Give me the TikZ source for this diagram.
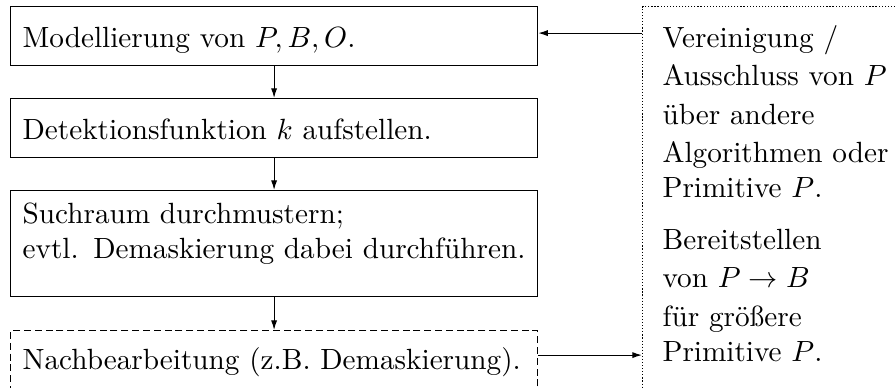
\documentclass[tikz,border=0pt]{standalone}
\usetikzlibrary{arrows.meta,calc}
\newlength\pxu
\setlength\pxu{0.342pt}
\tikzset{
  box/.style={draw, rectangle, anchor=north west, inner sep=0pt, minimum width={527*\pxu}},
  txt/.style={anchor=base west, align=left, inner sep=0pt, text width={520*\pxu}},
  rtxt/.style={txt, text width={232*\pxu}},
  arr/.style={-{Latex[length=3.3pt,width=2.1pt]}},
  dashbox/.style={dash pattern=on 2.4pt off 1.3pt},
  dotbox/.style={draw, rectangle, anchor=north west, dash pattern=on 0.4pt off 0.65pt,
    minimum width={300*\pxu}, minimum height={420*\pxu}, inner sep=0pt},
}
\begin{document}
\begin{tikzpicture}[x=0.342pt,y=-0.342pt]
\useasboundingbox (0,0) rectangle (895,387);
\clip (0,0) rectangle (895,387);

\node[box, minimum height={59*\pxu}] (b1) at (10,6) {};
\node[box, minimum height={59*\pxu}] (b2) at (10,98) {};
\node[box, minimum height={106*\pxu}] (b3) at (10,190) {};
\node[box, dashbox, minimum height={59*\pxu}] (b4) at (10,330) {};

\node[txt] (t1) at (22,47) {Modellierung von $P,B,O$.};
\node[txt] (t2) at (22,139) {Detektionsfunktion $k$ aufstellen.};
\node[txt] (t3) at (22,223) {Suchraum durchmustern;\\evtl. Demaskierung dabei durchführen.};
\node[txt] (t4) at (22,369) {Nachbearbeitung (z.B. Demaskierung).};

\node[dotbox] (r) at (642,6) {};
\node[rtxt] (rt1) at (662,47)
  {\baselineskip=38.5\pxu Vereinigung /\\Ausschluss von $P$\\über andere\\Algorithmen oder\\Primitive $P$.};
\node[rtxt] (rt2) at (662,249)
  {\baselineskip=38.5\pxu Bereitstellen\\von $P\to B$\\für größere\\Primitive $P$.};

\draw[arr] (b1.south) -- (b2.north);
\draw[arr] (b2.south) -- (b3.north);
\draw[arr] (b3.south) -- (b4.north);

\coordinate (a1) at ($(b1.east)+(0,-3)$);
\coordinate (a2) at ($(b4.east)+(0,-5)$);
\draw[arr] (r.west |- a1) -- (a1);
\draw[arr] (a2) -- (r.west |- a2);
\end{tikzpicture}
\end{document}
